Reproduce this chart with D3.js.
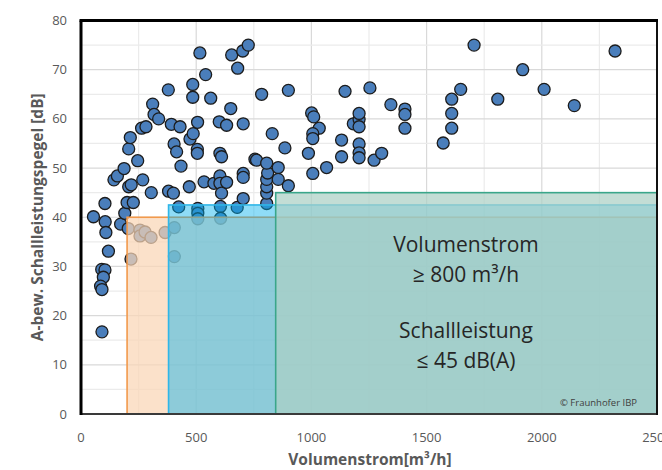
<!DOCTYPE html>
<html>
<head>
<meta charset="utf-8">
<script src="https://cdn.jsdelivr.net/npm/d3@7"></script>
<style>
    body { margin: 0; background: #fff; }
    svg { display: block; font-family: "Open Sans", "Noto Sans", sans-serif; }
    .tick-label { fill: #595959; font-size: 13px; }
    .axis-title { fill: #595959; font-size: 15.5px; font-weight: bold; }
    .info { fill: #262626; font-size: 21px; }
</style>
</head>
<body>
<svg id="chart" width="662" height="470"></svg>
<script>
// Messpunkte: Volumenstrom [m³/h] und A-bew. Schallleistungspegel [dB]
var flowRate = [
    54, 105, 108, 172, 104, 119, 90, 104, 97, 85, 91, 91, 143, 158, 187, 190, 200, 227,
    207, 214, 207, 218, 246, 263, 282, 268, 305, 311, 317, 337, 379, 392, 430, 404, 415, 434,
    380, 401, 424, 470, 473, 487, 485, 485,
    506, 505, 505, 507, 507, 516, 534, 541, 563, 577, 600, 603, 610, 603, 603, 610, 632, 632,
    605, 650, 654, 680, 678, 702, 704, 704, 704, 704, 726, 755, 762, 784,
    806, 806, 806, 806, 810, 806, 830, 856, 856, 885, 900, 900,
    1001, 1010, 1034, 1006, 1006, 987, 1006, 1066, 1131, 1131, 1146, 1182, 1207, 1207, 1207,
    1207, 1207, 1207, 1254, 1272, 1305, 1345, 1406, 1406, 1406, 1572, 1609, 1609, 1609, 1648,
    1706, 1809, 1917, 2010, 2141, 2318,
    205, 217, 256, 256, 278, 304, 365, 405, 405, 507, 606
];
var soundLevel = [
    40.1, 39.1, 36.9, 38.6, 42.8, 33.1, 29.4, 29.3, 27.8, 26, 25.3, 16.7, 47.6, 48.4, 49.9, 40.8, 43, 43,
    53.9, 56.2, 46.2, 46.6, 51.5, 58.1, 58.4, 47.6, 45, 63, 60.9, 60, 65.9, 58.9, 58.4, 54.9, 53.3, 50.4,
    45.3, 44.9, 42.1, 46.2, 55.9, 57, 67, 64.4,
    59.3, 53.8, 53, 41.8, 40.8, 73.4, 47.2, 69, 64.2, 46.9, 59.4, 53, 52.3, 48.4, 46.9, 44.9, 47.1, 58.7,
    42.2, 62.1, 73, 70.3, 42, 73.8, 59, 48.9, 48.1, 43.8, 75, 51.8, 51.6, 65,
    42.8, 44.9, 46.2, 47.7, 49, 51, 57, 50.1, 47.7, 54.1, 46.4, 65.8,
    61.2, 60.4, 58.1, 57, 56, 53, 48.9, 50.1, 55.7, 52.3, 65.6, 59, 59.9, 61.1, 58.4,
    54.9, 53.1, 52.1, 66.3, 51.6, 53, 62.9, 62, 60.9, 58.1, 55.1, 58.1, 61.1, 64, 66,
    75, 64, 70, 66, 62.7, 73.8,
    37.7, 31.5, 37.4, 36.2, 37, 35.9, 36.9, 37.9, 32, 39.7, 39.8
];

var xTicks = [0, 500, 1000, 1500, 2000, 2500];
var yTicks = [0, 10, 20, 30, 40, 50, 60, 70, 80];

// Anforderungsbereiche: ab Volumenstrom, bis Schallleistung
var zoneFlowMin = [200, 380, 845];
var zoneLevelMax = [40, 42.5, 45];

var infoLines = ["Volumenstrom", "≥ 800 m³/h", "", "Schallleistung", "≤ 45 dB(A)"];

function draw() {
    var left = 81, right = 657, plotTop = 20.5, bottom = 414;

    var svg = d3.select("#chart");

    var x = d3.scaleLinear().domain([0, 2500]).range([left, right]);
    var y = d3.scaleLinear().domain([0, 80]).range([bottom, plotTop]);

    // Gitternetz
    svg.append("g")
        .selectAll("line")
        .data(d3.range(250, 2500, 250))
        .enter()
        .append("line")
        .attr("x1", (d) => x(d))
        .attr("x2", (d) => x(d))
        .attr("y1", plotTop)
        .attr("y2", bottom)
        .attr("stroke", (d) => d % 500 == 0 ? "#d9d9d9" : "#ebebeb")
        .attr("stroke-width", 1.2);

    svg.append("g")
        .selectAll("line")
        .data(d3.range(5, 80, 5))
        .enter()
        .append("line")
        .attr("x1", left)
        .attr("x2", right)
        .attr("y1", (d) => y(d))
        .attr("y2", (d) => y(d))
        .attr("stroke", (d) => d % 10 == 0 ? "#d9d9d9" : "#ebebeb")
        .attr("stroke-width", 1.2);

    // Punkte
    svg.append("g")
        .selectAll("circle")
        .data(flowRate)
        .enter()
        .append("circle")
        .attr("cx", (d) => x(d))
        .attr("cy", (d, i) => y(soundLevel[i]))
        .attr("r", 6)
        .attr("fill", "#4a7ebb")
        .attr("stroke", "#1c1c1c")
        .attr("stroke-width", 1.3);

    // Bereiche liegen halbtransparent über den Punkten
    var zoneFill = ["#f9d5b6", "#00b0ec", "#acd0c5"];
    var zoneOpacity = [0.72, 0.44, 0.72];
    var zoneStroke = ["#f29a4c", "#2fb6e8", "#3aa68a"];

    svg.append("g")
        .selectAll("rect")
        .data(zoneFlowMin)
        .enter()
        .append("rect")
        .attr("x", (d) => x(d))
        .attr("y", (d, i) => y(zoneLevelMax[i]))
        .attr("width", (d) => x(2500) - x(d))
        .attr("height", (d, i) => y(0) - y(zoneLevelMax[i]))
        .attr("fill", (d, i) => zoneFill[i])
        .attr("fill-opacity", (d, i) => zoneOpacity[i])
        .attr("stroke", (d, i) => zoneStroke[i])
        .attr("stroke-width", 1.6);

    // Text im Bereich
    var lineY = [252, 282, 0, 338, 368];
    svg.append("g")
        .selectAll("text")
        .data(infoLines)
        .enter()
        .append("text")
        .attr("class", "info")
        .attr("x", 466)
        .attr("y", (d, i) => lineY[i])
        .attr("text-anchor", "middle")
        .text((d) => d);

    svg.append("text")
        .attr("x", 637)
        .attr("y", 406)
        .attr("text-anchor", "end")
        .attr("fill", "#404040")
        .style("font-size", "9.5px")
        .text("© Fraunhofer IBP");

    // Rahmen
    svg.append("line")
        .attr("x1", left).attr("x2", right)
        .attr("y1", bottom).attr("y2", bottom)
        .attr("stroke", "#3a3a3a").attr("stroke-width", 2);
    svg.append("line")
        .attr("x1", right).attr("x2", right)
        .attr("y1", plotTop).attr("y2", bottom + 1)
        .attr("stroke", "#111").attr("stroke-width", 2);
    svg.append("line")
        .attr("x1", left - 1.5).attr("x2", right + 1)
        .attr("y1", plotTop).attr("y2", plotTop)
        .attr("stroke", "#000").attr("stroke-width", 3);
    svg.append("line")
        .attr("x1", left).attr("x2", left)
        .attr("y1", plotTop).attr("y2", bottom + 1)
        .attr("stroke", "#000").attr("stroke-width", 3);

    // Achsenbeschriftungen
    svg.append("g")
        .selectAll("text")
        .data(xTicks)
        .enter()
        .append("text")
        .attr("class", "tick-label")
        .attr("x", (d) => x(d))
        .attr("y", 442)
        .attr("text-anchor", "middle")
        .text((d) => d);

    svg.append("g")
        .selectAll("text")
        .data(yTicks)
        .enter()
        .append("text")
        .attr("class", "tick-label")
        .attr("x", 67)
        .attr("y", (d) => y(d) + 4.5)
        .attr("text-anchor", "end")
        .text((d) => d);

    svg.append("text")
        .attr("class", "axis-title")
        .attr("x", 370)
        .attr("y", 465)
        .attr("text-anchor", "middle")
        .text("Volumenstrom[m³/h]");

    svg.append("text")
        .attr("class", "axis-title")
        .attr("transform", "translate(43," + ((plotTop + bottom) / 2) + ") rotate(-90)")
        .attr("text-anchor", "middle")
        .text("A-bew.  Schallleistungspegel [dB]");
}

draw();
</script>
</body>
</html>
